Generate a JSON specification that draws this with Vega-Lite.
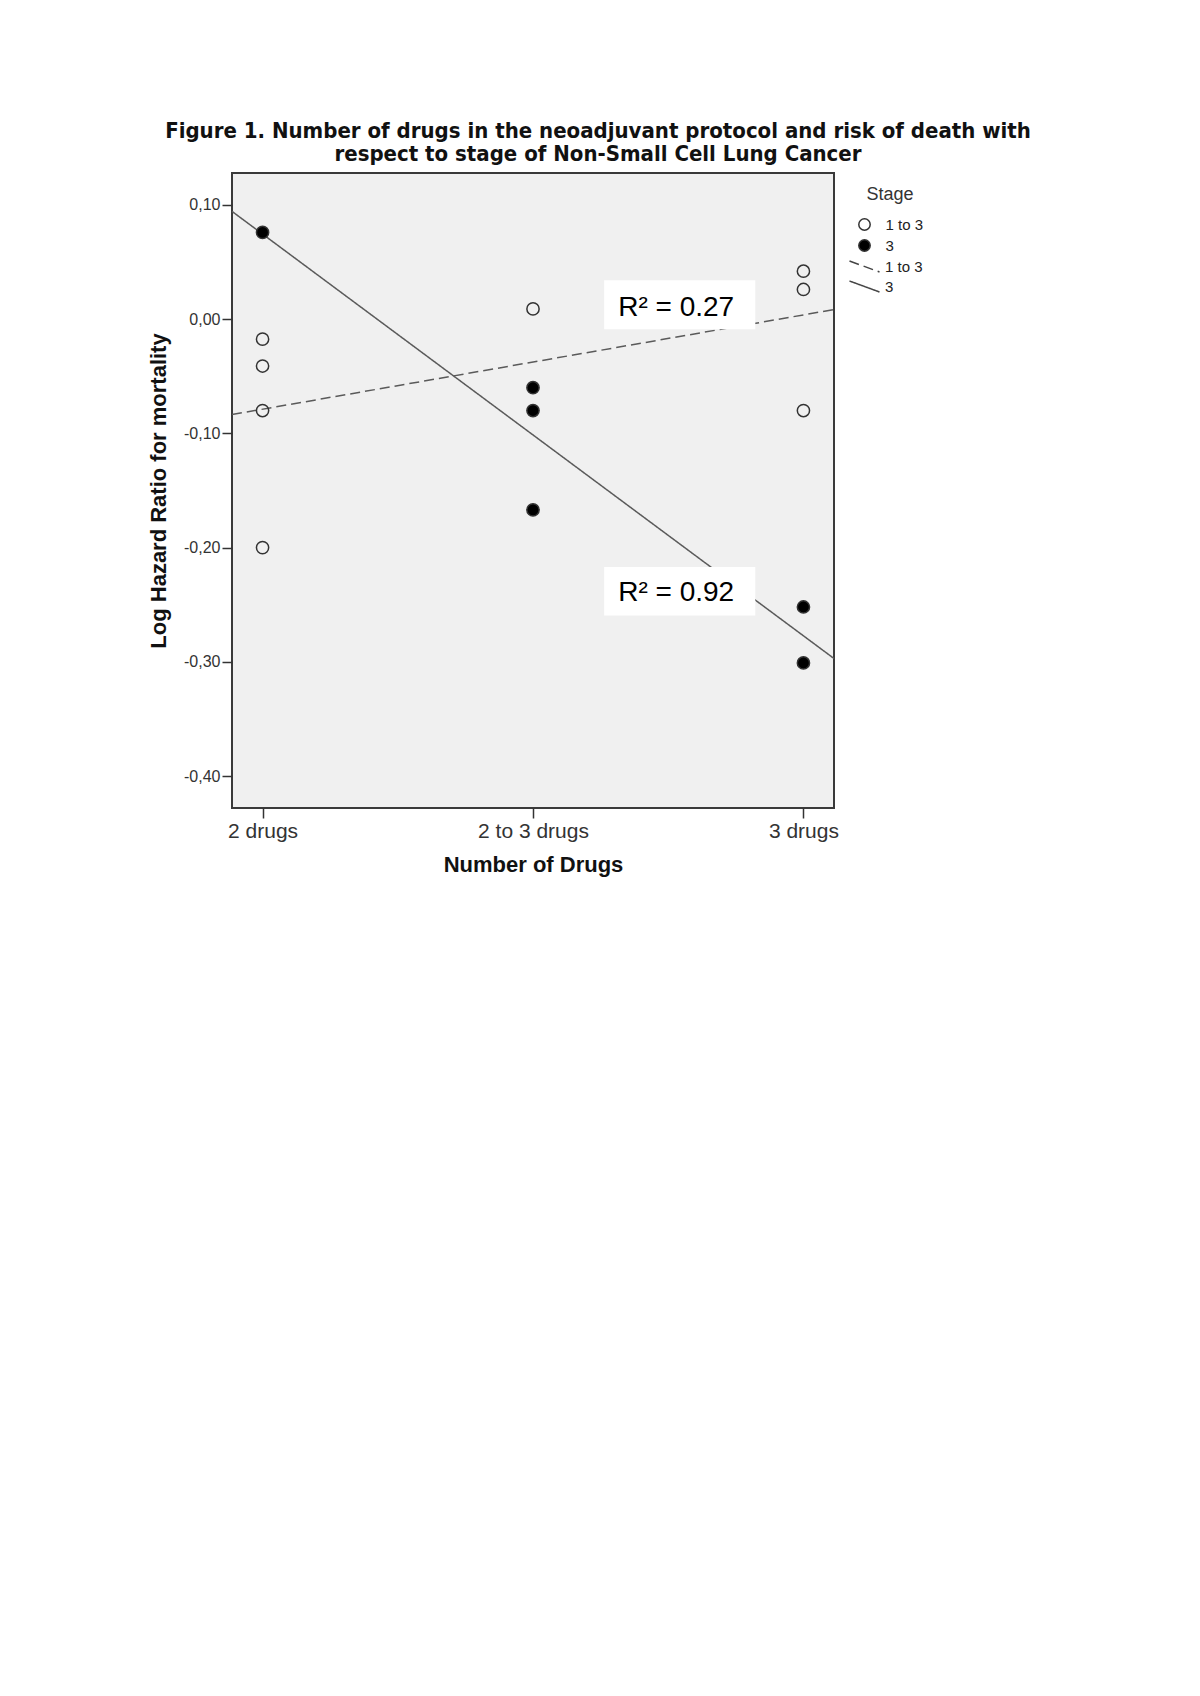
{
  "$schema": "https://vega.github.io/schema/vega-lite/v6.json",
  "width": 602,
  "height": 635,
  "autosize": {"type": "none"},
  "padding": {"left": 232, "top": 173, "right": 366, "bottom": 888},
  "background": "white",
  "config": {
    "view": {"fill": "#f0f0f0", "stroke": "#3a3a3a", "strokeWidth": 2},
    "font": "Liberation Sans"
  },
  "title": {
    "text": ["Figure 1. Number of drugs in the neoadjuvant protocol and risk of death with", "respect to stage of Non-Small Cell Lung Cancer"],
    "anchor": "middle",
    "frame": "group",
    "dx": 65,
    "offset": 7,
    "fontSize": 22,
    "lineHeight": 23,
    "font": "DejaVu Sans Condensed, Liberation Sans",
    "fontWeight": "bold",
    "color": "#111111"
  },
  "datasets": {
    "points": [
      {"drugs": 1, "hr": -0.0175, "stage": "1 to 3"},
      {"drugs": 1, "hr": -0.041, "stage": "1 to 3"},
      {"drugs": 1, "hr": -0.080, "stage": "1 to 3"},
      {"drugs": 1, "hr": -0.200, "stage": "1 to 3"},
      {"drugs": 2, "hr": 0.009, "stage": "1 to 3"},
      {"drugs": 3, "hr": 0.042, "stage": "1 to 3"},
      {"drugs": 3, "hr": 0.026, "stage": "1 to 3"},
      {"drugs": 3, "hr": -0.080, "stage": "1 to 3"},
      {"drugs": 1, "hr": 0.076, "stage": "3"},
      {"drugs": 2, "hr": -0.060, "stage": "3"},
      {"drugs": 2, "hr": -0.080, "stage": "3"},
      {"drugs": 2, "hr": -0.167, "stage": "3"},
      {"drugs": 3, "hr": -0.252, "stage": "3"},
      {"drugs": 3, "hr": -0.301, "stage": "3"}
    ],
    "labels": [
      {"text": "R² = 0.27", "tx": 2.315, "ty": 0.0024, "bx1": 2.263, "bx2": 2.822, "by1": 0.0342, "by2": -0.0088},
      {"text": "R² = 0.92", "tx": 2.315, "ty": -0.2471, "bx1": 2.263, "bx2": 2.822, "by1": -0.2169, "by2": -0.2594}
    ]
  },
  "data": {"name": "points"},
  "encoding": {
    "x": {
      "field": "drugs",
      "type": "quantitative",
      "scale": {"domain": [0.887, 3.113], "nice": false, "zero": false},
      "axis": {
        "values": [1, 2, 3],
        "labelExpr": "datum.value == 1 ? '2 drugs' : datum.value == 2 ? '2 to 3 drugs' : '3 drugs'",
        "title": "Number of Drugs",
        "titleFontSize": 22,
        "titleFontWeight": "bold",
        "titleColor": "#111111",
        "titlePadding": 13,
        "labelFontSize": 21,
        "labelColor": "#333333",
        "labelPadding": 2,
        "labelFlush": false,
        "tickSize": 10,
        "tickColor": "#333333",
        "tickWidth": 1.5,
        "domain": false,
        "grid": false
      }
    },
    "y": {
      "field": "hr",
      "type": "quantitative",
      "scale": {"domain": [-0.428, 0.128], "nice": false, "zero": false},
      "axis": {
        "values": [0.1, 0, -0.1, -0.2, -0.3, -0.4],
        "labelExpr": "replace(replace(format(datum.value, '.2f'), '.', ','), '−', '-')",
        "title": "Log Hazard Ratio for mortality",
        "titleFontSize": 22,
        "titleFontWeight": "bold",
        "titleColor": "#111111",
        "titlePadding": 13,
        "labelFontSize": 16,
        "labelColor": "#333333",
        "labelPadding": 2,
        "labelFlush": false,
        "tickSize": 10,
        "tickColor": "#333333",
        "tickWidth": 1.5,
        "domain": false,
        "grid": false
      }
    }
  },
  "layer": [
    {
      "transform": [{"regression": "hr", "on": "drugs", "groupby": ["stage"], "extent": [0.887, 3.113]}],
      "mark": {"type": "line", "strokeWidth": 1.5, "stroke": "#5a5a5a"},
      "encoding": {
        "strokeDash": {
          "field": "stage",
          "type": "nominal",
          "scale": {"range": [[10, 5], [1, 0]]},
          "legend": {
            "title": null,
            "orient": "none",
            "legendX": 625,
            "legendY": 86,
            "labelFontSize": 15,
            "labelColor": "#222222",
            "labelOffset": 13,
            "symbolType": "M-3,-1.1L3,1.1",
            "symbolSize": 100,
            "symbolStrokeColor": "#444444",
            "symbolStrokeWidth": 1.5,
            "rowPadding": 3
          }
        }
      }
    },
    {
      "data": {"name": "labels"},
      "mark": {"type": "rect", "fill": "white", "stroke": null},
      "encoding": {
        "x": {"field": "bx1", "type": "quantitative"},
        "x2": {"field": "bx2"},
        "y": {"field": "by1", "type": "quantitative"},
        "y2": {"field": "by2"}
      }
    },
    {
      "data": {"name": "labels"},
      "mark": {"type": "text", "align": "left", "baseline": "alphabetic", "fontSize": 28, "font": "Liberation Sans", "color": "#000000"},
      "encoding": {
        "x": {"field": "tx", "type": "quantitative"},
        "y": {"field": "ty", "type": "quantitative"},
        "text": {"field": "text"}
      }
    },
    {
      "mark": {"type": "point", "shape": "circle", "filled": true, "size": 150, "stroke": "#333333", "strokeWidth": 1.5, "opacity": 1},
      "encoding": {
        "fill": {
          "field": "stage",
          "type": "nominal",
          "scale": {"domain": ["1 to 3", "3"], "range": ["transparent", "#000000"]},
          "legend": {
            "title": "Stage",
            "orient": "right",
            "offset": 7,
            "padding": 13,
            "titleFontSize": 18,
            "titleFontWeight": "normal",
            "titleColor": "#333333",
            "titleAnchor": "middle",
            "titlePadding": 13,
            "labelFontSize": 15,
            "labelColor": "#222222",
            "labelOffset": 13.5,
            "symbolType": "circle",
            "symbolSize": 130,
            "symbolStrokeColor": "#333333",
            "symbolStrokeWidth": 1.5,
            "rowPadding": 2
          }
        }
      }
    }
  ]
}
